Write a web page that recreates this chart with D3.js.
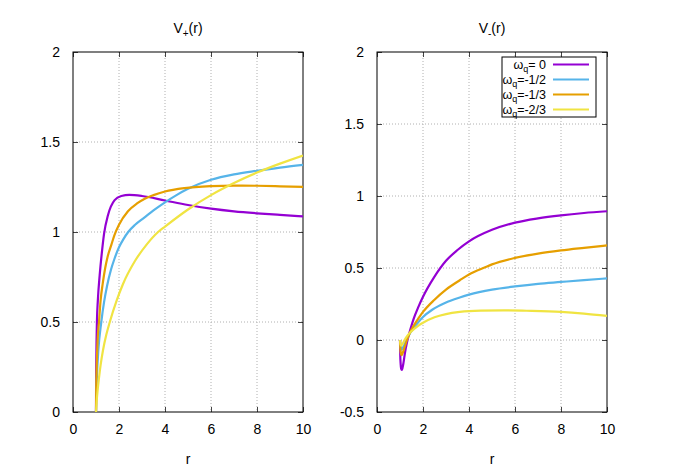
<!DOCTYPE html>
<meta charset="utf-8">
<script src="https://d3js.org/d3.v7.min.js"></script>
<style>
  body { margin: 0; background: #fff; }
  text { font-family: "Liberation Sans", Arial, sans-serif; fill: #000; }
</style>
<svg id="chart" width="675" height="473"></svg>
<script>
  // omega_q of each curve, and the gnuplot colours
  const omegaLabels = ["= 0", "=-1/2", "=-1/3", "=-2/3"];
  const colors = ["#9400d3", "#56b4e9", "#e69f00", "#f0e442"];

  const xTicks = [0, 2, 4, 6, 8, 10];
  const yTicksPlus = [0, 0.5, 1, 1.5, 2];
  const yTicksMinus = [-0.5, 0, 0.5, 1, 1.5, 2];

  // V+(r) as [r, V]
  const vPlus0 = [[1,0],[1.005,0.15],[1.015,0.3],[1.04,0.5],[1.08,0.62],[1.16,0.76],[1.25,0.88],[1.35,0.99],[1.52,1.093],[1.81,1.177],[2.1,1.2],[2.45,1.206],[3,1.2],[4,1.175],[5,1.15],[6,1.13],[7,1.115],[8,1.104],[9,1.095],[10,1.087]];
  const vPlusHalf = [[1,0],[1.01,0.09],[1.04,0.2],[1.1,0.34],[1.23,0.5],[1.35,0.61],[1.48,0.7],[1.65,0.79],[1.8,0.85],[2,0.915],[2.2,0.962],[2.4,1.0],[2.7,1.04],[3.1,1.08],[3.5,1.12],[4,1.165],[4.5,1.205],[5,1.24],[6,1.29],[7,1.32],[8,1.34],[9,1.358],[10,1.373]];
  const vPlusThird = [[1,0],[1.01,0.13],[1.03,0.25],[1.07,0.4],[1.13,0.5],[1.2,0.62],[1.3,0.72],[1.4,0.8],[1.5,0.86],[1.67,0.93],[1.81,0.985],[2,1.04],[2.39,1.115],[2.8,1.16],[3.12,1.185],[3.5,1.205],[4,1.225],[4.85,1.244],[6,1.255],[7,1.258],[8,1.257],[9,1.254],[10,1.251]];
  const vPlusTwoThirds = [[1,0],[1.03,0.06],[1.07,0.12],[1.13,0.19],[1.2,0.26],[1.3,0.34],[1.45,0.43],[1.6,0.5],[1.9,0.62],[2.17,0.71],[2.7,0.84],[3.2,0.93],[3.7,1.0],[4,1.03],[5,1.125],[6,1.205],[7,1.272],[8,1.33],[9,1.38],[10,1.425]];

  // V-(r)
  const vMinus0 = [[1,0],[1.01,-0.1],[1.03,-0.17],[1.05,-0.2],[1.08,-0.208],[1.11,-0.193],[1.15,-0.16],[1.22,-0.085],[1.3,-0.02],[1.4,0.045],[1.5,0.1],[1.6,0.15],[1.8,0.23],[2,0.3],[2.5,0.44],[3,0.55],[3.5,0.625],[4,0.685],[5,0.765],[6,0.815],[7,0.845],[8,0.866],[9,0.882],[10,0.894]];
  const vMinusHalf = [[1,0],[1.02,-0.045],[1.04,-0.06],[1.07,-0.065],[1.12,-0.055],[1.2,-0.03],[1.3,0.005],[1.43,0.045],[1.6,0.085],[1.8,0.125],[2,0.16],[2.4,0.21],[3,0.26],[3.6,0.295],[4,0.315],[5,0.35],[6,0.372],[7,0.39],[8,0.403],[9,0.416],[10,0.428]];
  const vMinusThird = [[1,0],[1.02,-0.07],[1.05,-0.1],[1.08,-0.105],[1.12,-0.09],[1.2,-0.05],[1.3,0],[1.43,0.05],[1.6,0.1],[1.8,0.15],[2,0.195],[2.5,0.28],[3,0.35],[3.6,0.415],[4,0.455],[4.7,0.505],[5,0.525],[6,0.57],[7,0.6],[8,0.622],[9,0.64],[10,0.657]];
  const vMinusTwoThirds = [[1,0],[1.02,-0.03],[1.05,-0.04],[1.1,-0.03],[1.2,0],[1.3,0.025],[1.43,0.05],[1.6,0.075],[1.8,0.1],[2,0.12],[2.5,0.158],[3,0.18],[3.6,0.195],[4.5,0.204],[5.5,0.206],[6.5,0.203],[8,0.195],[9,0.183],[10,0.167]];

  const svg = d3.select("#chart");

  function subText(g, x, y, base, sub, rest, anchor, size, subSize, shift) {
    const t = g.append("text").attr("x", x).attr("y", y)
      .attr("text-anchor", anchor).style("font-size", size + "px");
    t.append("tspan").text(base);
    t.append("tspan").attr("dy", shift).style("font-size", subSize + "px").text(sub);
    t.append("tspan").attr("dy", -shift).text(rest);
    return t;
  }

  function drawPanel(p) {
    const x = d3.scaleLinear().domain([0, 10]).range([p.left, p.left + 230]);
    const y = d3.scaleLinear().domain(p.yDomain).range([412, 52]);
    const g = svg.append("g");

    // dotted grid
    g.selectAll(".gx").data(xTicks.slice(1, -1)).join("line")
      .attr("x1", d => x(d)).attr("x2", d => x(d)).attr("y1", 52).attr("y2", 412)
      .attr("stroke", "#b0b0b0").attr("stroke-dasharray", "1,2");
    g.selectAll(".gy").data(p.yTicks.slice(1, -1)).join("line")
      .attr("x1", p.left).attr("x2", p.left + 230).attr("y1", d => y(d)).attr("y2", d => y(d))
      .attr("stroke", "#b0b0b0").attr("stroke-dasharray", "1,2");

    // axes with mirrored inward ticks
    g.append("g").attr("transform", "translate(0,412)")
      .call(d3.axisBottom(x).tickValues(xTicks).tickSize(-5).tickPadding(12).tickFormat(d3.format("d")));
    g.append("g").attr("transform", "translate(0,52)")
      .call(d3.axisTop(x).tickValues(xTicks).tickSize(-5).tickFormat(""));
    g.append("g").attr("transform", `translate(${p.left},0)`)
      .call(d3.axisLeft(y).tickValues(p.yTicks).tickSize(-5).tickPadding(13).tickFormat(d => String(d)));
    g.append("g").attr("transform", `translate(${p.left + 230},0)`)
      .call(d3.axisRight(y).tickValues(p.yTicks).tickSize(-5).tickFormat(""));
    g.selectAll(".domain").remove();
    g.selectAll(".tick line").attr("stroke", "#444");
    g.selectAll(".tick text").style("font-size", "14px").style("font-family", "Liberation Sans, Arial, sans-serif");

    g.append("rect").attr("x", p.left).attr("y", 52).attr("width", 230).attr("height", 360)
      .attr("fill", "none").attr("stroke", "#000");

    const clipId = "clip" + p.left;
    svg.append("clipPath").attr("id", clipId).append("rect")
      .attr("x", p.left).attr("y", 52).attr("width", 230).attr("height", 360);

    const line = d3.line().x(d => x(d[0])).y(d => y(d[1])).curve(d3.curveMonotoneX);
    g.append("g").attr("clip-path", `url(#${clipId})`)
      .selectAll("path").data(p.series).join("path")
      .attr("d", line).attr("fill", "none")
      .attr("stroke", (d, i) => colors[i]).attr("stroke-width", 2.2);

    subText(g, p.left + 115, 33, "V", p.sub, "(r)", "middle", 14, 10, 4);
    g.append("text").attr("x", p.left + 115).attr("y", 464).attr("text-anchor", "middle")
      .style("font-size", "14px").text("r");
  }

  drawPanel({ left: 73, yDomain: [0, 2], yTicks: yTicksPlus, sub: "+",
    series: [vPlus0, vPlusHalf, vPlusThird, vPlusTwoThirds] });
  drawPanel({ left: 377, yDomain: [-0.5, 2], yTicks: yTicksMinus, sub: "-",
    series: [vMinus0, vMinusHalf, vMinusThird, vMinusTwoThirds] });

  // legend in the right panel
  const lg = svg.append("g");
  lg.append("rect").attr("x", 502).attr("y", 57).attr("width", 94).attr("height", 60)
    .attr("fill", "#fff").attr("stroke", "#000");
  omegaLabels.forEach((lab, i) => {
    const yy = 64.5 + i * 15;
    subText(lg, 546, yy + 4, "ω", "q", lab, "end", 12.5, 9, 3);
    lg.append("line").attr("x1", 553).attr("x2", 589).attr("y1", yy).attr("y2", yy)
      .attr("stroke", colors[i]).attr("stroke-width", 2.2);
  });
</script>
